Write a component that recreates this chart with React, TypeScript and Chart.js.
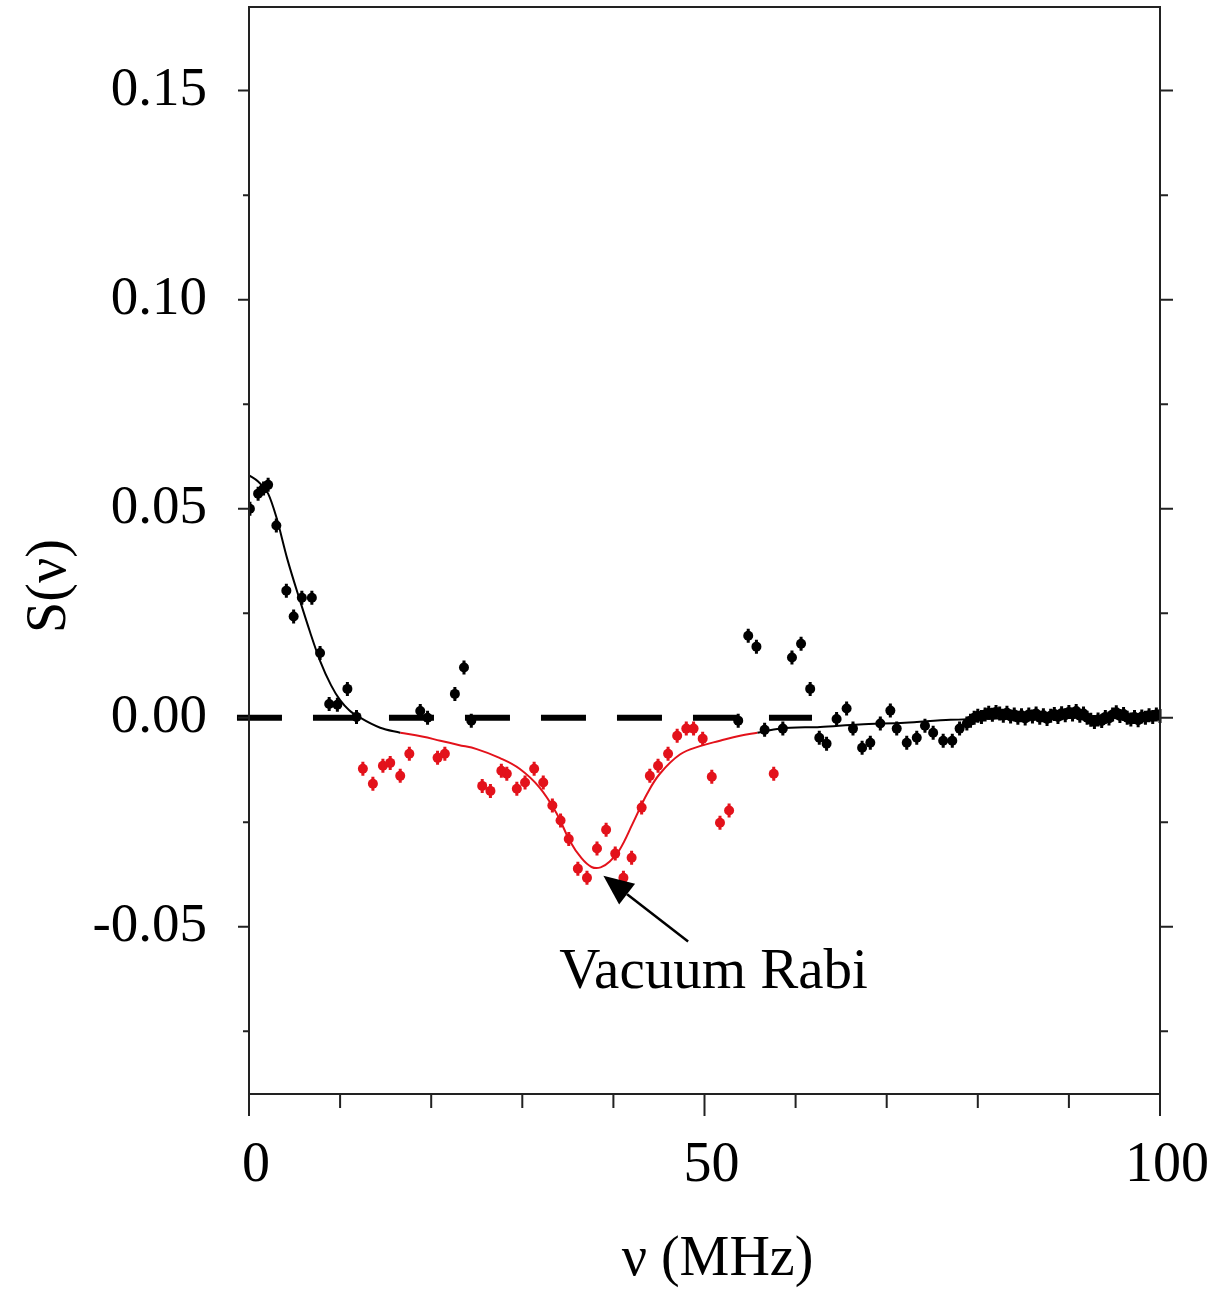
import React, { useEffect, useRef } from "react";
import { Chart, registerables } from "chart.js";

Chart.register(...registerables);

// ---------- data ----------
const blackFreq = [
  0.1, 1.0, 1.6, 2.1, 3.0, 4.1, 4.9, 5.8, 6.9, 7.8, 8.8, 9.7, 10.8, 11.8,
  18.8, 19.6, 22.6, 23.6, 24.4,
  53.7, 54.8, 55.7, 56.6, 58.6, 59.6, 60.6, 61.6, 62.6, 63.4, 64.5, 65.6, 66.3,
  67.3, 68.2, 69.3, 70.4, 71.1, 72.2, 73.3, 74.2, 75.1, 76.2, 77.2, 78.0,
  78.8, 79.2, 79.6, 80.0, 80.4, 80.8, 81.2, 81.6, 82.0, 82.4, 82.8, 83.2, 83.6,
  84.0, 84.4, 84.8, 85.2, 85.6, 86.0, 86.4, 86.8, 87.2, 87.6, 88.0, 88.4, 88.8,
  89.2, 89.6, 90.0, 90.4, 90.8, 91.2, 91.6, 92.0, 92.4, 92.8, 93.2, 93.6, 94.0,
  94.4, 94.8, 95.2, 95.6, 96.0, 96.4, 96.8, 97.2, 97.6, 98.0, 98.4, 98.8, 99.2,
  99.6, 100.0,
];
const blackSignal = [
  0.05, 0.0536, 0.0548, 0.0557, 0.046, 0.0304, 0.0242, 0.0287, 0.0287, 0.0155,
  0.0033, 0.0031, 0.0069, 0.0002,
  0.0016, 0.0, 0.0057, 0.012, -0.0007,
  -0.0007, 0.0196, 0.017, -0.0029, -0.0026, 0.0144, 0.0177, 0.0069, -0.0048,
  -0.0062, -0.0003, 0.0022, -0.0026, -0.0072, -0.006, -0.0014, 0.0017, -0.0026,
  -0.006, -0.0048, -0.0019, -0.0036, -0.0055, -0.0055, -0.0026,
  -0.0014, -0.0007, 0.0, 0.0005, 0.0002, 0.0008, 0.0012, 0.0007, 0.0014, 0.001,
  0.0005, 0.0012, 0.0003, 0.0008, 0.0, 0.0006, -0.0002, 0.0008, 0.0003, 0.001,
  0.0, 0.0006, -0.0003, 0.0005, 0.0009, 0.0002, 0.0011, 0.0006, 0.0014, 0.0008,
  0.0016, 0.0005, 0.001, 0.0, -0.0005, -0.001, -0.0004, -0.0008, 0.0002,
  -0.0002, 0.0008, 0.0013, 0.0004, 0.0009, 0.0, -0.0004, 0.0002, -0.0006,
  0.0003, 0.0, 0.0006, 0.0002, 0.0008, 0.0004,
];

const redFreq = [
  12.5, 13.6, 14.7, 15.5, 16.6, 17.6, 20.7, 21.5, 25.6, 26.5, 27.7, 28.3, 29.4,
  30.3, 31.3, 32.3, 33.3, 34.2, 35.1, 36.1, 37.1, 38.2, 39.2, 40.2, 41.1, 42.0,
  43.1, 44.0, 44.9, 46.0, 47.0, 48.0, 48.8, 49.8, 50.8, 51.7, 52.7, 57.6,
];
const redSignal = [
  -0.0122, -0.0158, -0.0115, -0.0108, -0.0139, -0.0086, -0.0096, -0.0086,
  -0.0163, -0.0175, -0.0127, -0.0134, -0.017, -0.0155, -0.0122, -0.0155,
  -0.021, -0.0246, -0.029, -0.0361, -0.0383, -0.0313, -0.0268, -0.0325,
  -0.0383, -0.0335, -0.0215, -0.0139, -0.0115, -0.0086, -0.0043, -0.0026,
  -0.0026, -0.005, -0.0141, -0.0251, -0.0222, -0.0134,
];

const fitLowFreq = [0, 1.0, 2.1, 3.0, 4.2, 5.6, 6.7, 7.8, 9.0, 10.0, 11.0, 12.2, 14.4, 16.6];
const fitLowSignal = [0.058, 0.0565, 0.0536, 0.048, 0.038, 0.028, 0.0205, 0.0136, 0.0078, 0.0042, 0.0018, 0.0, -0.0024, -0.0036];

const fitRedFreq = [
  16.6, 19.0, 21.0, 23.0, 25.0, 27.5, 29.7, 31.9, 33.8, 35.2, 36.5, 37.6, 38.6,
  39.6, 40.7, 42.1, 43.7, 45.1, 47.3, 49.5, 51.7, 53.9, 55.8,
];
const fitRedSignal = [
  -0.0036, -0.0045, -0.0055, -0.0065, -0.0075, -0.0096, -0.0122, -0.0167,
  -0.023, -0.0294, -0.0336, -0.0357, -0.0358, -0.0344, -0.0315, -0.0254,
  -0.0182, -0.0134, -0.0088, -0.0068, -0.0055, -0.0043, -0.0036,
];

const fitHighFreq = [55.8, 58.3, 62.7, 67.0, 72.0, 77.0, 82.0, 90.0, 100.0];
const fitHighSignal = [-0.0036, -0.0026, -0.0022, -0.0016, -0.0012, -0.0005, -0.0002, 0.0, 0.0];

const zeroLineFreq = [-1.32, 61.8];
const zeroLineSignal = [0, 0];

const xLabelValues = [0, 50, 100];
const xMinorTicks = [10, 20, 30, 40, 60, 70, 80, 90];
const yLabelValues = [-0.05, 0, 0.05, 0.1, 0.15];
const yMinorTicks = [-0.075, -0.025, 0.025, 0.075, 0.125];

const annotationText = "Vacuum Rabi";
const arrowTail = { x: 48.2, y: -0.0535 };
const arrowTip = { x: 38.9, y: -0.0378 };
const annotationAnchor = { x: 51.0, y: -0.0646 };

const xTitle = "ν (MHz)";
const yTitle = "S(ν)";

const RED = "#e3121b";
const SERIF = "'Liberation Serif', 'Times New Roman', serif";

const toPts = (xs: number[], ys: number[]) => xs.map((x, i) => ({ x, y: ys[i] }));

// short vertical error-bar strokes through the measured points
const errorBarPlugin = {
  id: "errorBarPlugin",
  afterDatasetsDraw(chart: any) {
    const { ctx } = chart;
    ctx.save();
    ctx.lineWidth = 3;
    [0, 1].forEach((di) => {
      const meta = chart.getDatasetMeta(di);
      ctx.strokeStyle = chart.data.datasets[di].borderColor;
      ctx.beginPath();
      meta.data.forEach((el: any) => {
        ctx.moveTo(el.x, el.y - 7);
        ctx.lineTo(el.x, el.y + 7);
      });
      ctx.stroke();
    });
    ctx.restore();
  },
};

const framePlugin = {
  id: "framePlugin",
  afterDraw(chart: any) {
    const { ctx, chartArea } = chart;
    const xs = chart.scales.x;
    const ys = chart.scales.y;
    const { left, right, top, bottom } = chartArea;
    ctx.save();
    ctx.strokeStyle = "#222";
    ctx.lineWidth = 2;
    ctx.lineCap = "butt";
    ctx.strokeRect(left, top, right - left, bottom - top);

    ctx.beginPath();
    for (const v of xLabelValues) {
      const p = xs.getPixelForValue(v);
      ctx.moveTo(p, bottom);
      ctx.lineTo(p, bottom + 22);
    }
    for (const v of xMinorTicks) {
      const p = xs.getPixelForValue(v);
      ctx.moveTo(p, bottom);
      ctx.lineTo(p, bottom + 14);
    }
    for (const v of yLabelValues) {
      const p = ys.getPixelForValue(v);
      ctx.moveTo(left, p);
      ctx.lineTo(left - 11, p);
      ctx.moveTo(right, p);
      ctx.lineTo(right + 13, p);
    }
    for (const v of yMinorTicks) {
      const p = ys.getPixelForValue(v);
      ctx.moveTo(left, p);
      ctx.lineTo(left - 6, p);
      ctx.moveTo(right, p);
      ctx.lineTo(right + 8, p);
    }
    ctx.stroke();

    // arrow
    const tx = xs.getPixelForValue(arrowTail.x);
    const ty = ys.getPixelForValue(arrowTail.y);
    const hx = xs.getPixelForValue(arrowTip.x);
    const hy = ys.getPixelForValue(arrowTip.y);
    const ang = Math.atan2(hy - ty, hx - tx);
    const headLen = 30;
    const headHalf = 13;
    const bx = hx - headLen * Math.cos(ang);
    const by = hy - headLen * Math.sin(ang);
    ctx.strokeStyle = "#000";
    ctx.lineWidth = 2.5;
    ctx.beginPath();
    ctx.moveTo(tx, ty);
    ctx.lineTo(bx, by);
    ctx.stroke();
    ctx.fillStyle = "#000";
    ctx.beginPath();
    ctx.moveTo(hx, hy);
    ctx.lineTo(bx + headHalf * Math.sin(ang), by - headHalf * Math.cos(ang));
    ctx.lineTo(bx - headHalf * Math.sin(ang), by + headHalf * Math.cos(ang));
    ctx.closePath();
    ctx.fill();

    ctx.font = `57px ${SERIF}`;
    ctx.textAlign = "center";
    ctx.textBaseline = "alphabetic";
    ctx.fillText(
      annotationText,
      xs.getPixelForValue(annotationAnchor.x),
      ys.getPixelForValue(annotationAnchor.y)
    );

    ctx.font = `56px ${SERIF}`;
    ctx.fillText(xTitle, (left + right) / 2 + 13, 1275);
    ctx.save();
    ctx.translate(50, 586);
    ctx.rotate(-Math.PI / 2);
    ctx.textBaseline = "middle";
    ctx.fillText(yTitle, 0, 0);
    ctx.restore();
    ctx.restore();
  },
};

export default function App() {
  const canvasRef = useRef<HTMLCanvasElement | null>(null);

  useEffect(() => {
    document.body.style.margin = "0";
    const canvas = canvasRef.current;
    if (!canvas) return;
    const zeroPad = (s: any) => {
      s.paddingLeft = 0;
      s.paddingRight = 0;
      s.paddingTop = 0;
      s.paddingBottom = 0;
    };
    const chart = new Chart(canvas, {
      type: "scatter",
      data: {
        datasets: [
          {
            label: "black data",
            data: toPts(blackFreq, blackSignal),
            backgroundColor: "#000",
            borderColor: "#000",
            pointRadius: 5,
            pointBorderWidth: 0,
            showLine: false,
          },
          {
            label: "red data",
            data: toPts(redFreq, redSignal),
            backgroundColor: RED,
            borderColor: RED,
            pointRadius: 5,
            pointBorderWidth: 0,
            showLine: false,
          },
          {
            label: "zero",
            data: toPts(zeroLineFreq, zeroLineSignal),
            showLine: true,
            borderColor: "#000",
            borderWidth: 6,
            borderDash: [45, 31],
            borderCapStyle: "butt",
            pointRadius: 0,
            clip: false,
          } as any,
          {
            label: "fit low",
            data: toPts(fitLowFreq, fitLowSignal),
            showLine: true,
            borderColor: "#000",
            borderWidth: 2,
            cubicInterpolationMode: "monotone",
            pointRadius: 0,
          },
          {
            label: "fit red",
            data: toPts(fitRedFreq, fitRedSignal),
            showLine: true,
            borderColor: RED,
            borderWidth: 2,
            tension: 0.4,
            pointRadius: 0,
          },
          {
            label: "fit high",
            data: toPts(fitHighFreq, fitHighSignal),
            showLine: true,
            borderColor: "#000",
            borderWidth: 2,
            cubicInterpolationMode: "monotone",
            pointRadius: 0,
          },
        ],
      },
      options: {
        animation: false,
        responsive: false,
        devicePixelRatio: 1,
        layout: { padding: { left: 0, top: 7, right: 62, bottom: 0 } },
        plugins: {
          legend: { display: false },
          tooltip: { enabled: false },
          title: { display: false },
        },
        scales: {
          x: {
            type: "linear",
            position: "bottom",
            min: 0,
            max: 100,
            grid: { display: false, drawTicks: false },
            border: { display: false },
            ticks: {
              stepSize: 50,
              padding: 39,
              labelOffset: 7,
              color: "#000",
              maxRotation: 0,
              autoSkip: false,
              font: { family: SERIF, size: 56 },
              callback: (v: any) =>
                xLabelValues.some((t) => Math.abs(t - v) < 1e-6) ? String(Math.round(v)) : null,
            },
            afterFit: (s: any) => {
              s.height = 198;
              zeroPad(s);
            },
          },
          y: {
            type: "linear",
            position: "left",
            min: -0.09,
            max: 0.17,
            grid: { display: false, drawTicks: false },
            border: { display: false },
            ticks: {
              stepSize: 0.05,
              padding: 42,
              color: "#000",
              autoSkip: false,
              font: { family: SERIF, size: 55 },
              callback: (v: any) =>
                yLabelValues.some((t) => Math.abs(t - v) < 1e-6) ? Number(v).toFixed(2) : null,
            },
            afterFit: (s: any) => {
              s.width = 249;
              zeroPad(s);
            },
          },
        },
      },
      plugins: [errorBarPlugin, framePlugin],
    });
    return () => chart.destroy();
  }, []);

  return (
    <div style={{ width: 1222, height: 1292, background: "#fff" }}>
      <canvas ref={canvasRef} width={1222} height={1292} style={{ display: "block" }} />
    </div>
  );
}
